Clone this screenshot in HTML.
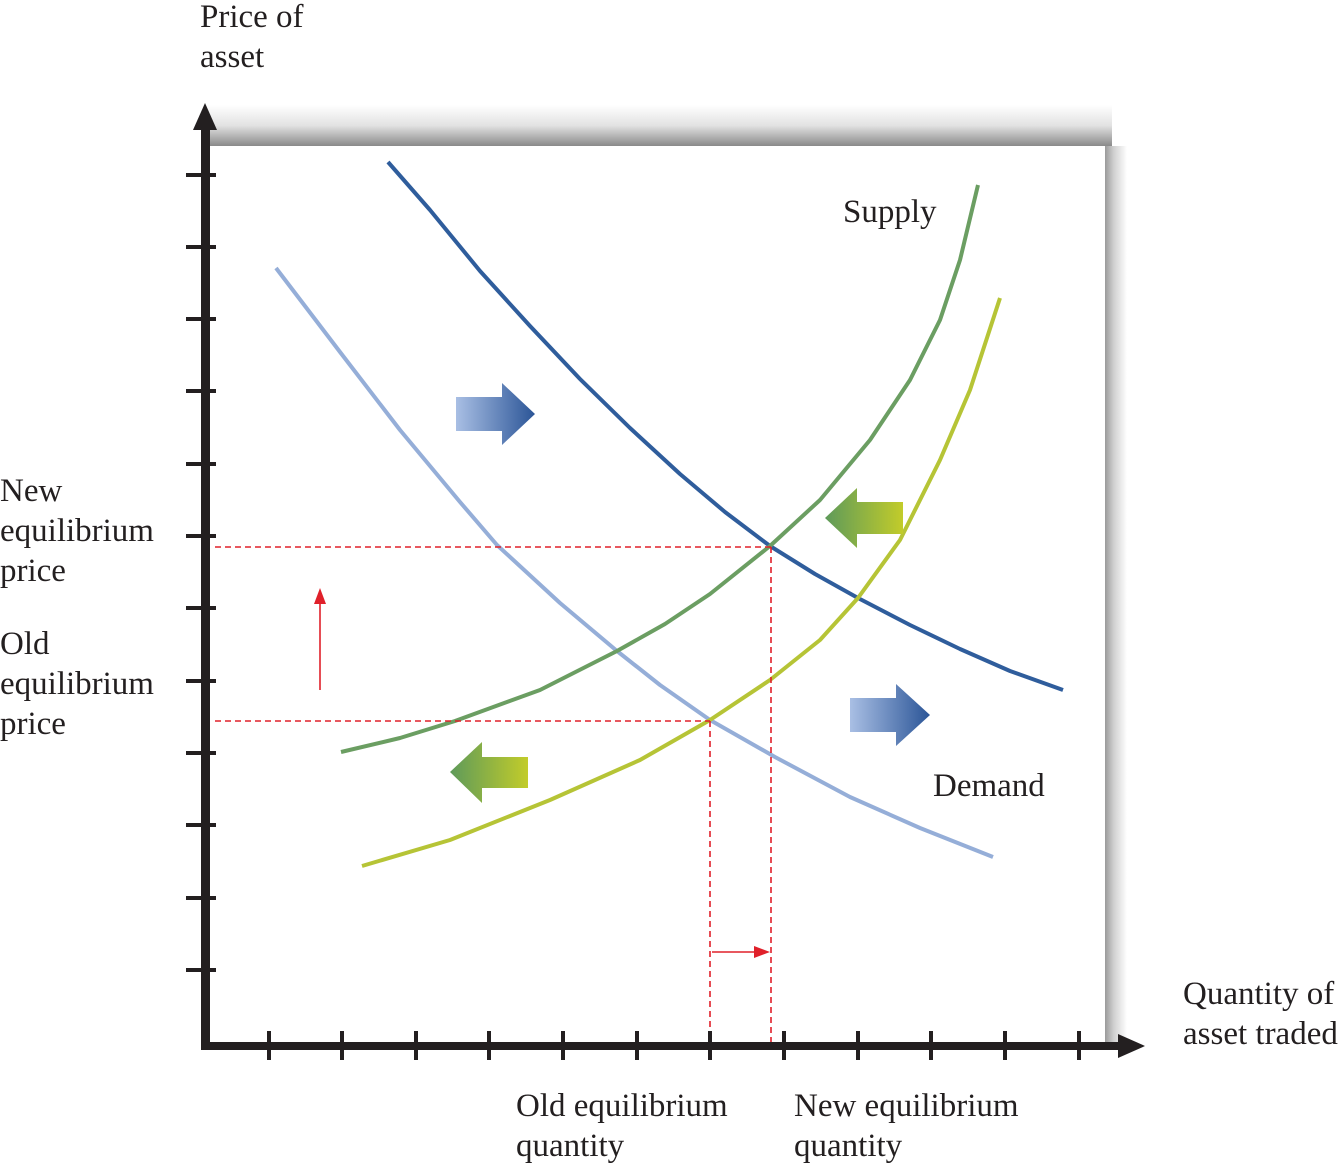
<!DOCTYPE html>
<html><head><meta charset="utf-8"><style>
body{margin:0;background:#fff;}
svg{display:block;}
text{font-family:"Liberation Serif",serif;font-size:33px;fill:#231f20;}
</style></head><body>
<svg width="1339" height="1166" viewBox="0 0 1339 1166" xmlns="http://www.w3.org/2000/svg">
<defs>
<linearGradient id="topsh" x1="0" y1="0" x2="0" y2="1"><stop offset="0" stop-color="#fff"/><stop offset="0.5" stop-color="#e2e2e2"/><stop offset="1" stop-color="#8a8a8a"/></linearGradient>
<linearGradient id="rsh" x1="0" y1="0" x2="1" y2="0"><stop offset="0" stop-color="#9a9a9a"/><stop offset="0.4" stop-color="#d0d0d0"/><stop offset="1" stop-color="#fff"/></linearGradient>
<linearGradient id="blueR" x1="0" y1="0" x2="1" y2="0"><stop offset="0" stop-color="#a9bfe4"/><stop offset="1" stop-color="#2b5597"/></linearGradient>
<linearGradient id="greenL" x1="1" y1="0" x2="0" y2="0"><stop offset="0" stop-color="#c2cc2a"/><stop offset="1" stop-color="#5e9a5a"/></linearGradient>
</defs>
<rect x="207" y="105" width="905" height="41" fill="url(#topsh)"/>
<rect x="1105" y="146" width="22" height="900" fill="url(#rsh)"/>
<rect x="207" y="146" width="898" height="900" fill="#fff"/>

<g fill="none" stroke-width="4" stroke-linejoin="round" stroke-linecap="butt">
<polyline stroke="#2f5d9c" points="388,162 430,210 480,271 530,326 580,379 630,428 680,474 725,512 770,546 815,574 858,598 910,625 960,649 1010,671 1063,690"/>
<polyline stroke="#95aed8" points="276,268 340,352 400,430 460,502 497,545 560,603 617,651 660,685 710,720 775,757 850,797 920,828 993,857"/>
<polyline stroke="#6b9e62" points="341,752 400,738 455,721 540,690 617,651 665,624 710,594 770,546 820,500 870,440 910,380 940,320 960,260 978,185"/>
<polyline stroke="#b6c436" points="362,866 450,840 550,800 640,760 710,720 770,680 820,640 858,598 900,540 940,460 970,390 1000,298"/>
</g>

<g stroke="#e0202a" stroke-width="1.6" stroke-dasharray="6,4" fill="none">
<line x1="215" y1="547" x2="771" y2="547"/>
<line x1="771" y1="547" x2="771" y2="1044"/>
<line x1="215" y1="721" x2="710" y2="721"/>
<line x1="710" y1="721" x2="710" y2="1044"/>
</g>
<g stroke="#e0202a" stroke-width="1.6" fill="#e0202a">
<line x1="320" y1="690" x2="320" y2="600"/>
<polygon points="320,588 314,604 326,604" stroke="none"/>
<line x1="712" y1="952" x2="758" y2="952"/>
<polygon points="770,952 754,946 754,958" stroke="none"/>
</g>

<polygon fill="url(#blueR)" points="456,397 502,397 502,383 535,414 502,445 502,431 456,431"/>
<polygon fill="url(#blueR)" points="850,698 896,698 896,684 930,715 896,746 896,732 850,732"/>
<polygon fill="url(#greenL)" points="903,502 857,502 857,488 825,518 857,548 857,534 903,534"/>
<polygon fill="url(#greenL)" points="528,757 482,757 482,742 450,772 482,803 482,788 528,788"/>

<g fill="#231f20">
<rect x="201" y="125" width="9" height="925"/>
<polygon points="205,103 193,130 217,130"/>
<rect x="201" y="1042" width="922" height="8"/>
<polygon points="1145,1046 1118,1034 1118,1058"/>
</g>
<g stroke="#231f20" stroke-width="4">
<line x1="186" y1="175" x2="216" y2="175"/><line x1="186" y1="247" x2="216" y2="247"/>
<line x1="186" y1="319" x2="216" y2="319"/><line x1="186" y1="391" x2="216" y2="391"/>
<line x1="186" y1="464" x2="216" y2="464"/><line x1="186" y1="536" x2="216" y2="536"/>
<line x1="186" y1="608" x2="216" y2="608"/><line x1="186" y1="681" x2="216" y2="681"/>
<line x1="186" y1="753" x2="216" y2="753"/><line x1="186" y1="825" x2="216" y2="825"/>
<line x1="186" y1="898" x2="216" y2="898"/><line x1="186" y1="970" x2="216" y2="970"/>
<line x1="269" y1="1031" x2="269" y2="1060"/><line x1="342" y1="1031" x2="342" y2="1060"/>
<line x1="416" y1="1031" x2="416" y2="1060"/><line x1="489" y1="1031" x2="489" y2="1060"/>
<line x1="563" y1="1031" x2="563" y2="1060"/><line x1="637" y1="1031" x2="637" y2="1060"/>
<line x1="710" y1="1031" x2="710" y2="1060"/><line x1="784" y1="1031" x2="784" y2="1060"/>
<line x1="858" y1="1031" x2="858" y2="1060"/><line x1="931" y1="1031" x2="931" y2="1060"/>
<line x1="1005" y1="1031" x2="1005" y2="1060"/><line x1="1079" y1="1031" x2="1079" y2="1060"/>
</g>

<text x="200" y="27">Price of</text>
<text x="200" y="67">asset</text>
<text x="843" y="222">Supply</text>
<text x="933" y="796">Demand</text>
<text x="0" y="501">New</text>
<text x="0" y="541">equilibrium</text>
<text x="0" y="581">price</text>
<text x="0" y="654">Old</text>
<text x="0" y="694">equilibrium</text>
<text x="0" y="734">price</text>
<text x="1183" y="1004">Quantity of</text>
<text x="1183" y="1044">asset traded</text>
<text x="516" y="1116">Old equilibrium</text>
<text x="516" y="1156">quantity</text>
<text x="794" y="1116">New equilibrium</text>
<text x="794" y="1156">quantity</text>
</svg>
</body></html>
